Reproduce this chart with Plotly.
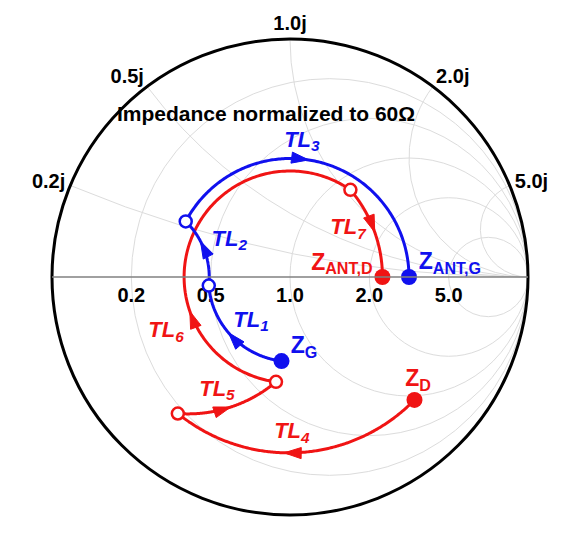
import numpy as np
import plotly.graph_objects as go

# ---------------- data: impedances normalized to 60 ohm -------------
blue_nodes = [0.73 - 0.59j, 0.49 - 0.04j, 0.355 + 0.22j, 3.0 + 0j]          # Z_G -> ... -> Z_ANT,G
blue_lines = ["1", "2", "3"]
blue_same_z0 = [True, False, True]      # True: line impedance = 60 ohm (circle about chart centre)

red_nodes = [0.93 - 2.09j, 0.18 - 0.46j, 0.61 - 0.67j, 1.16 + 1.06j, 2.27 + 0j]  # Z_D -> ... -> Z_ANT,D
red_lines = ["4", "5", "6", "7"]
red_same_z0 = [True, False, True, False]

real_ticks = [0.2, 0.5, 1.0, 2.0, 5.0]
real_tick_text = ["0.2", "0.5", "1.0", "2.0", "5.0"]
imag_ticks = [0.2, 0.5, 1.0, 2.0, 5.0]

# ---------------- styling -------------
BLUE = "#1010ee"
RED = "#f01414"
FONT = "Liberation Sans, Arial, sans-serif"
arrow_frac = {"1": 0.54, "2": 0.65, "3": 0.47, "4": 0.56, "5": 0.51, "6": 0.31, "7": 0.52}
# label anchors in reflection-coefficient plane (fraction of chart radius)
label_gamma = {
    "1": (-0.164, -0.185), "2": (-0.255, 0.155), "3": (0.050, 0.571),
    "4": (0.008, -0.655), "5": (-0.307, -0.475), "6": (-0.521, -0.231), "7": (0.244, 0.202),
}
zlabel_gamma = {
    "G": (0.059, -0.294), "ANT,G": (0.672, 0.059), "D": (0.538, -0.433), "ANT,D": (0.218, 0.055),
}


def to_gamma(z):
    return (z - 1) / (z + 1)


def to_z(g):
    return (1 + g) / (1 - g)


def arc(za, zb, same_z0, n=200):
    ga, gb = to_gamma(za), to_gamma(zb)
    if same_z0:
        c = 0.0
    else:
        c = (abs(ga) ** 2 - abs(gb) ** 2) / (2 * (ga.real - gb.real))
    pa, pb = np.angle(ga - c), np.angle(gb - c)
    ra, rb = abs(ga - c), abs(gb - c)
    if same_z0:
        while pb >= pa:
            pb -= 2 * np.pi
    else:
        d = (pb - pa + np.pi) % (2 * np.pi) - np.pi
        pb = pa + d
    t = np.linspace(0, 1, n)
    g = c + (ra + (rb - ra) * t) * np.exp(1j * (pa + (pb - pa) * t))
    return to_z(g)


fig = go.Figure()

# real-axis tick labels drawn under the axis
fig.add_trace(go.Scattersmith(real=real_ticks, imag=[0] * len(real_ticks), mode="markers+text",
                              text=["<b>%s</b>" % t for t in real_tick_text],
                              textposition="bottom center",
                              marker=dict(size=14, opacity=0),
                              textfont=dict(family=FONT, size=20, color="black"),
                              hoverinfo="skip", showlegend=False))


def add_path(nodes, names, same, color):
    for i, name in enumerate(names):
        zz = arc(nodes[i], nodes[i + 1], same[i])
        fig.add_trace(go.Scattersmith(real=zz.real, imag=zz.imag, mode="lines",
                                      line=dict(color=color, width=3), hoverinfo="skip",
                                      showlegend=False))
        k = int(arrow_frac[name] * (len(zz) - 1))
        fig.add_trace(go.Scattersmith(real=[zz[k - 3].real, zz[k].real], imag=[zz[k - 3].imag, zz[k].imag],
                                      mode="markers",
                                      marker=dict(symbol="arrow", size=[0, 18], color=color, opacity=1,
                                                  angleref="previous", line=dict(width=1, color=color)),
                                      hoverinfo="skip", showlegend=False))
    # intermediate open circles
    mids = nodes[1:-1]
    fig.add_trace(go.Scattersmith(real=[z.real for z in mids], imag=[z.imag for z in mids],
                                  mode="markers",
                                  marker=dict(symbol="circle", size=12, color="white",
                                              line=dict(color=color, width=2.5)),
                                  hoverinfo="skip", showlegend=False))
    ends = [nodes[0], nodes[-1]]
    fig.add_trace(go.Scattersmith(real=[z.real for z in ends], imag=[z.imag for z in ends],
                                  mode="markers",
                                  marker=dict(symbol="circle", size=16, color=color),
                                  hoverinfo="skip", showlegend=False))
    # TL labels
    g = [complex(*label_gamma[n]) for n in names]
    zl = [to_z(x) for x in g]
    fig.add_trace(go.Scattersmith(real=[z.real for z in zl], imag=[z.imag for z in zl],
                                  mode="text",
                                  text=["<b><i>TL<sub>%s</sub></i></b>" % n for n in names],
                                  textfont=dict(family=FONT, size=22, color=color),
                                  hoverinfo="skip", showlegend=False))


add_path(red_nodes, red_lines, red_same_z0, RED)
add_path(blue_nodes, blue_lines, blue_same_z0, BLUE)

for key, color in [("G", BLUE), ("ANT,G", BLUE), ("D", RED), ("ANT,D", RED)]:
    zl = to_z(complex(*zlabel_gamma[key]))
    fig.add_trace(go.Scattersmith(real=[zl.real], imag=[zl.imag], mode="text",
                                  text=["<b>Z<sub>%s</sub></b>" % key],
                                  textfont=dict(family=FONT, size=23, color=color),
                                  hoverinfo="skip", showlegend=False))

fig.update_layout(
    width=568, height=550,
    margin=dict(l=0, r=0, t=0, b=0),
    paper_bgcolor="white",
    font=dict(family=FONT, color="black", size=20, weight="bold"),
    smith=dict(
        domain=dict(x=[(290 - 238) / 568, (290 + 238) / 568], y=[1 - 515 / 550, 1 - 39 / 550]),
        bgcolor="white",
        realaxis=dict(tickvals=real_ticks, showticklabels=False,
                      gridcolor="#dcdcdc", gridwidth=1, showline=True,
                      linecolor="#808080", linewidth=1.5, ticks=""),
        imaginaryaxis=dict(tickvals=imag_ticks, tickformat=".1f", ticksuffix="j",
                           tickfont=dict(family=FONT, size=20, color="black", weight="bold"),
                           gridcolor="#dcdcdc", gridwidth=1, showline=True,
                           linecolor="black", linewidth=3, ticks=""),
    ),
    annotations=[dict(text="<b>Impedance normalized to 60Ω</b>", xref="paper", yref="paper",
                      x=266 / 568, y=1 - 100 / 550, showarrow=False,
                      font=dict(family=FONT, size=21, color="black"))],
    # white patch hiding the automatic infinity label beyond the right edge of the chart
    shapes=[dict(type="rect", xref="paper", yref="paper", layer="above",
                 x0=532 / 568, x1=1, y0=1 - 300 / 550, y1=1 - 255 / 550,
                 fillcolor="white", line=dict(width=0))],
)

fig.write_html("out.html")
